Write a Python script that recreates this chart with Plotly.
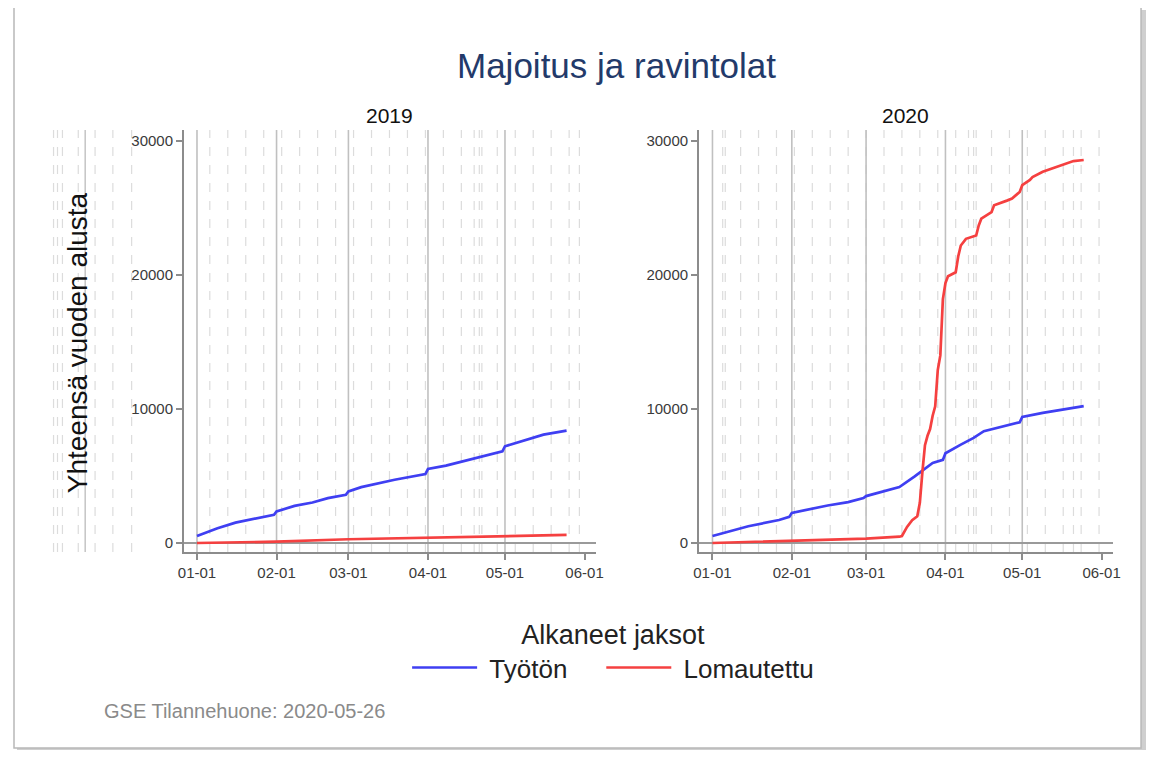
import pandas as pd
import plotly.graph_objects as go

# ---------------- data ----------------
dates_tyoton_2019 = ["2019-01-01", "2019-01-09", "2019-01-16", "2019-01-27", "2019-01-31", "2019-02-01",
                     "2019-02-08", "2019-02-15", "2019-02-21", "2019-02-28", "2019-03-01", "2019-03-06",
                     "2019-03-19", "2019-03-31", "2019-04-01", "2019-04-08", "2019-04-21", "2019-04-30",
                     "2019-05-01", "2019-05-10", "2019-05-16", "2019-05-25"]
vals_tyoton_2019 = [520, 1100, 1520, 1920, 2100, 2350, 2770, 3020, 3350, 3600, 3850, 4170,
                    4720, 5140, 5520, 5770, 6420, 6840, 7220, 7720, 8090, 8390]

dates_loma_2019 = ["2019-01-01", "2019-02-01", "2019-03-01", "2019-04-01", "2019-05-01", "2019-05-25"]
vals_loma_2019 = [0, 100, 280, 400, 520, 600]

dates_tyoton_2020 = ["2020-01-01", "2020-01-15", "2020-01-27", "2020-01-31", "2020-02-01", "2020-02-15",
                     "2020-02-23", "2020-02-29", "2020-03-01", "2020-03-14", "2020-03-20", "2020-03-27",
                     "2020-03-31", "2020-04-01", "2020-04-07", "2020-04-12", "2020-04-16", "2020-04-24",
                     "2020-04-30", "2020-05-01", "2020-05-09", "2020-05-25"]
vals_tyoton_2020 = [520, 1250, 1720, 1950, 2250, 2800, 3050, 3350, 3500, 4170, 4970, 5970,
                    6200, 6700, 7340, 7840, 8340, 8710, 9010, 9410, 9710, 10210]

dates_loma_2020 = ["2020-01-01", "2020-02-01", "2020-03-01", "2020-03-14", "2020-03-15", "2020-03-17",
                   "2020-03-19", "2020-03-21", "2020-03-22", "2020-03-23", "2020-03-24", "2020-03-25",
                   "2020-03-26", "2020-03-27", "2020-03-28", "2020-03-29", "2020-03-30", "2020-03-31",
                   "2020-04-01", "2020-04-02", "2020-04-05", "2020-04-06", "2020-04-07", "2020-04-09",
                   "2020-04-13", "2020-04-14", "2020-04-15", "2020-04-19", "2020-04-20", "2020-04-25",
                   "2020-04-27", "2020-04-30", "2020-05-01", "2020-05-04", "2020-05-05", "2020-05-09",
                   "2020-05-16", "2020-05-21", "2020-05-25"]
vals_loma_2020 = [0, 150, 330, 470, 520, 1200, 1700, 2000, 3000, 5300, 7300, 8000,
                  8500, 9500, 10200, 12900, 14000, 18200, 19400, 19900, 20200, 21400, 22200, 22700,
                  22950, 23700, 24200, 24700, 25200, 25550, 25700, 26200, 26700, 27100, 27300, 27700,
                  28200, 28500, 28580]

month_ticks_2019 = ["2019-01-01", "2019-02-01", "2019-03-01", "2019-04-01", "2019-05-01", "2019-06-01"]
month_ticks_2020 = ["2020-01-01", "2020-02-01", "2020-03-01", "2020-04-01", "2020-05-01", "2020-06-01"]
holidays_2019 = ["2019-04-19", "2019-04-22", "2019-05-30"]
holidays_2020 = ["2020-01-06", "2020-04-10", "2020-04-13", "2020-05-21"]
y_ticks = [0, 10000, 20000, 30000]

title = "Majoitus ja ravintolat"
ytitle = "Yhteensä vuoden alusta"
legend_title = "Alkaneet jaksot"
name_tyoton = "Työtön"
name_loma = "Lomautettu"
footer = "GSE Tilannehuone: 2020-05-26"

# ---------------- styling ----------------
OFF = 8                      # default page body margin
W, H = 1160 - 2 * OFF, 758 - 2 * OFF
FONT = "Liberation Sans, Arial, sans-serif"
BLUE = "#3f3ff2"
RED = "#f54040"
NB = "\u00a0"


def px_x(p):
    return (p - OFF) / W


def px_y(p):
    return 1 - (p - OFF) / H


fig = go.Figure()
fig.add_trace(go.Scatter(x=dates_tyoton_2019, y=vals_tyoton_2019, mode="lines",
                         name=NB + name_tyoton + NB * 4,
                         line=dict(color=BLUE, width=2.7), xaxis="x", yaxis="y", legendgroup="t"))
fig.add_trace(go.Scatter(x=dates_loma_2019, y=vals_loma_2019, mode="lines", name=NB + name_loma,
                         line=dict(color=RED, width=2.7), xaxis="x", yaxis="y", legendgroup="l"))
fig.add_trace(go.Scatter(x=dates_tyoton_2020, y=vals_tyoton_2020, mode="lines", name=name_tyoton,
                         line=dict(color=BLUE, width=2.7), xaxis="x2", yaxis="y2", legendgroup="t",
                         showlegend=False))
fig.add_trace(go.Scatter(x=dates_loma_2020, y=vals_loma_2020, mode="lines", name=name_loma,
                         line=dict(color=RED, width=2.7), xaxis="x2", yaxis="y2", legendgroup="l",
                         showlegend=False))

shapes = []
# card shadow & frame (drawn first, beneath everything)
shapes.append(dict(type="rect", xref="paper", yref="paper", x0=px_x(1148), x1=px_x(1153),
                   y0=px_y(753), y1=px_y(10), fillcolor="#cfcfcf", line=dict(width=0), layer="below"))
shapes.append(dict(type="rect", xref="paper", yref="paper", x0=px_x(11), x1=px_x(1153),
                   y0=px_y(753), y1=px_y(748), fillcolor="#cfcfcf", line=dict(width=0), layer="below"))
shapes.append(dict(type="rect", xref="paper", yref="paper", x0=px_x(8), x1=px_x(1148),
                   y0=px_y(748), y1=px_y(7), fillcolor="white", line=dict(color="#b8b8b8", width=1.5),
                   layer="below"))

# reference lines: Sundays + holidays (dashed), month starts (solid)
for xr, yr, year, hol, months in [("x", "y", 2019, holidays_2019, month_ticks_2019),
                                  ("x2", "y2", 2020, holidays_2020, month_ticks_2020)]:
    sundays = [d.strftime("%Y-%m-%d") for d in pd.date_range(f"{year}-01-01", f"{year}-05-31", freq="W-SUN")]
    for d in sorted(set(sundays + hol)):
        shapes.append(dict(type="line", xref=xr, yref=f"{yr} domain", x0=d, x1=d, y0=0, y1=1,
                           line=dict(color="#dcdcdc", width=1.2, dash="dash"), layer="below"))
    for d in months[:-1]:
        shapes.append(dict(type="line", xref=xr, yref=f"{yr} domain", x0=d, x1=d, y0=0, y1=1,
                           line=dict(color="#c0c0c0", width=1.6), layer="below"))

# stray reference lines left of the first panel (as in the source image)
for p, solid in [(48, False), (52, False), (57, False), (73, False), (80, True), (90, False),
                 (108, False), (127, False)]:
    shapes.append(dict(type="line", xref="paper", yref="paper", x0=px_x(p), x1=px_x(p),
                       y0=px_y(552), y1=px_y(130),
                       line=dict(color="#c0c0c0" if solid else "#dcdcdc", width=1.4 if solid else 1.2,
                                 dash="solid" if solid else "dash"), layer="below"))

axis_common = dict(showgrid=False, showline=True, linecolor="#8c8c8c", linewidth=2,
                   ticks="outside", ticklen=6, tickcolor="#8c8c8c", tickwidth=1.5,
                   tickfont=dict(family=FONT, size=15, color="#3a3a3a"))

fig.update_layout(
    width=W, height=H,
    margin=dict(l=0, r=0, t=0, b=0),
    paper_bgcolor="white", plot_bgcolor="rgba(0,0,0,0)",
    font=dict(family=FONT),
    shapes=shapes,
    xaxis=dict(domain=[px_x(180), px_x(597)], range=["2018-12-26 23:00", "2019-06-05 14:00"],
               tickvals=month_ticks_2019, tickformat="%m-%d", anchor="y", **axis_common),
    xaxis2=dict(domain=[px_x(701), px_x(1120)], range=["2019-12-26 19:00", "2020-06-05 14:00"],
                tickvals=month_ticks_2020, tickformat="%m-%d", anchor="y2", **axis_common),
    yaxis=dict(domain=[px_y(552), px_y(130)], range=[-672, 30820], tickvals=y_ticks, tickformat="d",
               zeroline=True, zerolinecolor="#9a9a9a", zerolinewidth=1.5, anchor="x", **axis_common),
    yaxis2=dict(domain=[px_y(552), px_y(130)], range=[-672, 30820], tickvals=y_ticks, tickformat="d",
                zeroline=True, zerolinecolor="#9a9a9a", zerolinewidth=1.5, anchor="x2", **axis_common),
    legend=dict(orientation="h", x=px_x(614), xanchor="center", y=px_y(609), yanchor="top",
                title=dict(text=legend_title, side="top center", font=dict(size=27, color="#222222")),
                font=dict(size=26, color="#222222"), itemwidth=65,
                tracegroupgap=0, bgcolor="rgba(0,0,0,0)"),
    annotations=[
        dict(text=title, x=px_x(617), y=px_y(65), xref="paper", yref="paper", showarrow=False,
             xanchor="center", yanchor="middle", font=dict(size=35, color="#233a6a")),
        dict(text="2019", x=px_x(388), y=px_y(115), xref="paper", yref="paper", showarrow=False,
             xanchor="center", yanchor="middle", font=dict(size=21, color="#111111")),
        dict(text="2020", x=px_x(910), y=px_y(115), xref="paper", yref="paper", showarrow=False,
             xanchor="center", yanchor="middle", font=dict(size=21, color="#111111")),
        dict(text=ytitle, x=px_x(72), y=px_y(343), xref="paper", yref="paper", showarrow=False,
             xanchor="center", yanchor="middle", textangle=-90, font=dict(size=28, color="#111111")),
        dict(text=footer, x=px_x(97), y=px_y(711), xref="paper", yref="paper", showarrow=False,
             xanchor="left", yanchor="middle", font=dict(size=20, color="#8a8a8a")),
    ],
)

fig.write_html("out.html")
